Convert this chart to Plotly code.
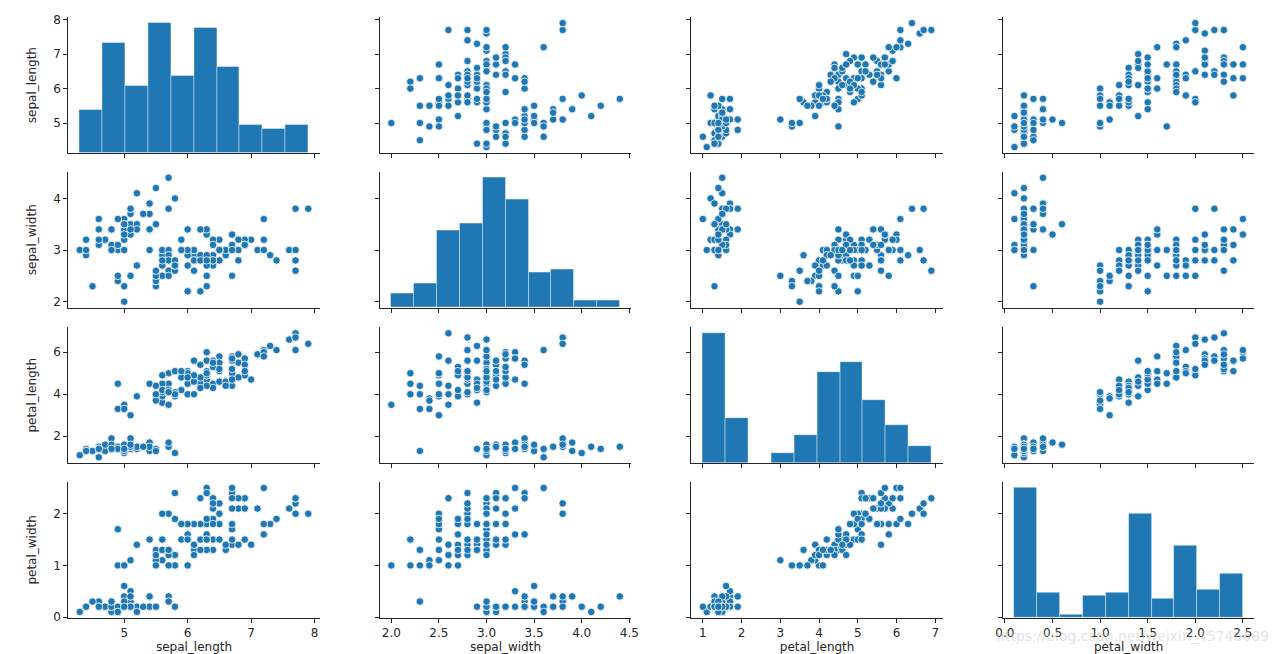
import numpy as np
import plotly.graph_objects as go

sepal_length = [5.1,4.9,4.7,4.6,5.0,5.4,4.6,5.0,4.4,4.9,5.4,4.8,4.8,4.3,5.8,5.7,5.4,5.1,5.7,5.1,
                5.4,5.1,4.6,5.1,4.8,5.0,5.0,5.2,5.2,4.7,4.8,5.4,5.2,5.5,4.9,5.0,5.5,4.9,4.4,5.1,
                5.0,4.5,4.4,5.0,5.1,4.8,5.1,4.6,5.3,5.0,
                7.0,6.4,6.9,5.5,6.5,5.7,6.3,4.9,6.6,5.2,5.0,5.9,6.0,6.1,5.6,6.7,5.6,5.8,6.2,5.6,
                5.9,6.1,6.3,6.1,6.4,6.6,6.8,6.7,6.0,5.7,5.5,5.5,5.8,6.0,5.4,6.0,6.7,6.3,5.6,5.5,
                5.5,6.1,5.8,5.0,5.6,5.7,5.7,6.2,5.1,5.7,
                6.3,5.8,7.1,6.3,6.5,7.6,4.9,7.3,6.7,7.2,6.5,6.4,6.8,5.7,5.8,6.4,6.5,7.7,7.7,6.0,
                6.9,5.6,7.7,6.3,6.7,7.2,6.2,6.1,6.4,7.2,7.4,7.9,6.4,6.3,6.1,7.7,6.3,6.4,6.0,6.9,
                6.7,6.9,5.8,6.8,6.7,6.7,6.3,6.5,6.2,5.9]
sepal_width = [3.5,3.0,3.2,3.1,3.6,3.9,3.4,3.4,2.9,3.1,3.7,3.4,3.0,3.0,4.0,4.4,3.9,3.5,3.8,3.8,
               3.4,3.7,3.6,3.3,3.4,3.0,3.4,3.5,3.4,3.2,3.1,3.4,4.1,4.2,3.1,3.2,3.5,3.6,3.0,3.4,
               3.5,2.3,3.2,3.5,3.8,3.0,3.8,3.2,3.7,3.3,
               3.2,3.2,3.1,2.3,2.8,2.8,3.3,2.4,2.9,2.7,2.0,3.0,2.2,2.9,2.9,3.1,3.0,2.7,2.2,2.5,
               3.2,2.8,2.5,2.8,2.9,3.0,2.8,3.0,2.9,2.6,2.4,2.4,2.7,2.7,3.0,3.4,3.1,2.3,3.0,2.5,
               2.6,3.0,2.6,2.3,2.7,3.0,2.9,2.9,2.5,2.8,
               3.3,2.7,3.0,2.9,3.0,3.0,2.5,2.9,2.5,3.6,3.2,2.7,3.0,2.5,2.8,3.2,3.0,3.8,2.6,2.2,
               3.2,2.8,2.8,2.7,3.3,3.2,2.8,3.0,2.8,3.0,2.8,3.8,2.8,2.8,2.6,3.0,3.4,3.1,3.0,3.1,
               3.1,3.1,2.7,3.2,3.3,3.0,2.5,3.0,3.4,3.0]
petal_length = [1.4,1.4,1.3,1.5,1.4,1.7,1.4,1.5,1.4,1.5,1.5,1.6,1.4,1.1,1.2,1.5,1.3,1.4,1.7,1.5,
                1.7,1.5,1.0,1.7,1.9,1.6,1.6,1.5,1.4,1.6,1.6,1.5,1.5,1.4,1.5,1.2,1.3,1.4,1.3,1.5,
                1.3,1.3,1.3,1.6,1.9,1.4,1.6,1.4,1.5,1.4,
                4.7,4.5,4.9,4.0,4.6,4.5,4.7,3.3,4.6,3.9,3.5,4.2,4.0,4.7,3.6,4.4,4.5,4.1,4.5,3.9,
                4.8,4.0,4.9,4.7,4.3,4.4,4.8,5.0,4.5,3.5,3.8,3.7,3.9,5.1,4.5,4.5,4.7,4.4,4.1,4.0,
                4.4,4.6,4.0,3.3,4.2,4.2,4.2,4.3,3.0,4.1,
                6.0,5.1,5.9,5.6,5.8,6.6,4.5,6.3,5.8,6.1,5.1,5.3,5.5,5.0,5.1,5.3,5.5,6.7,6.9,5.0,
                5.7,4.9,6.7,4.9,5.7,6.0,4.8,4.9,5.6,5.8,6.1,6.4,5.6,5.1,5.6,6.1,5.6,5.5,4.8,5.4,
                5.6,5.1,5.1,5.9,5.7,5.2,5.0,5.2,5.4,5.1]
petal_width = [0.2,0.2,0.2,0.2,0.2,0.4,0.3,0.2,0.2,0.1,0.2,0.2,0.1,0.1,0.2,0.4,0.4,0.3,0.3,0.3,
               0.2,0.4,0.2,0.5,0.2,0.2,0.4,0.2,0.2,0.2,0.2,0.4,0.1,0.2,0.2,0.2,0.2,0.1,0.2,0.2,
               0.3,0.3,0.2,0.6,0.4,0.3,0.2,0.2,0.2,0.2,
               1.4,1.5,1.5,1.3,1.5,1.3,1.6,1.0,1.3,1.4,1.0,1.5,1.0,1.4,1.3,1.4,1.5,1.0,1.5,1.1,
               1.8,1.3,1.5,1.2,1.3,1.4,1.4,1.7,1.5,1.0,1.1,1.0,1.2,1.6,1.5,1.6,1.5,1.3,1.3,1.3,
               1.2,1.4,1.2,1.0,1.3,1.2,1.3,1.3,1.1,1.3,
               2.5,1.9,2.1,1.8,2.2,2.1,1.7,1.8,1.8,2.5,2.0,1.9,2.1,2.0,2.4,2.3,1.8,2.2,2.3,1.5,
               2.3,2.0,2.0,1.8,2.1,1.8,1.8,1.8,2.1,1.6,1.9,2.0,2.2,1.5,1.4,2.3,2.4,1.8,1.8,2.1,
               2.4,2.3,1.9,2.3,2.5,2.3,1.9,2.0,2.3,1.8]

variables = ["sepal_length", "sepal_width", "petal_length", "petal_width"]
columns = [sepal_length, sepal_width, petal_length, petal_width]

x_tickvals = [[5, 6, 7, 8], [2.0, 2.5, 3.0, 3.5, 4.0, 4.5],
              [1, 2, 3, 4, 5, 6, 7], [0.0, 0.5, 1.0, 1.5, 2.0, 2.5]]
x_ticktext = [["5", "6", "7", "8"], ["2.0", "2.5", "3.0", "3.5", "4.0", "4.5"],
              ["1", "2", "3", "4", "5", "6", "7"], ["0.0", "0.5", "1.0", "1.5", "2.0", "2.5"]]
y_tickvals = [[5, 6, 7, 8], [2, 3, 4], [2, 4, 6], [0, 1, 2]]
y_ticktext = [["5", "6", "7", "8"], ["2", "3", "4"], ["2", "4", "6"], ["0", "1", "2"]]

BLUE = "#1f77b4"
W, H = 1280, 654
col_left = [53, 368.5, 684, 999.5]
col_w = 254.5
row_top = [5, 162, 320, 477]
row_h = 138.5

font = dict(family="DejaVu Sans", size=12, color="#262626")


def rng(vals):
    lo, hi = min(vals), max(vals)
    m = (hi - lo) * 0.05
    return [lo - m, hi + m]


fig = go.Figure()
layout = dict(width=W, height=H, margin=dict(l=0, r=0, t=0, b=0),
              plot_bgcolor="white", paper_bgcolor="white", showlegend=False,
              font=font)

extra = 17
for r in range(4):
    for c in range(4):
        k = r * 4 + c + 1
        xa = "x" + str(k)
        ya = "y" + str(k)
        xname = "xaxis" + str(k)
        yname = "yaxis" + str(k)
        xd = [col_left[c] / W, (col_left[c] + col_w) / W]
        yd = [1 - (row_top[r] + row_h) / H, 1 - row_top[r] / H]
        layout[xname] = dict(
            domain=xd, anchor=ya, range=rng(columns[c]),
            tickvals=x_tickvals[c], ticktext=x_ticktext[c],
            showticklabels=(r == 3), ticks="outside", ticklen=4, tickwidth=1,
            tickcolor="#262626", showline=True, linecolor="#262626", linewidth=1,
            showgrid=False, zeroline=False, mirror=False,
            title=dict(text=variables[c] if r == 3 else "", font=dict(size=12),
                       standoff=1),
            tickfont=dict(size=12),
        )
        layout[yname] = dict(
            domain=yd, anchor=xa, range=rng(columns[r]),
            tickvals=y_tickvals[r], ticktext=y_ticktext[r],
            showticklabels=(c == 0), ticks="outside", ticklen=4, tickwidth=1,
            tickcolor="#262626", showline=True, linecolor="#262626", linewidth=1,
            showgrid=False, zeroline=False, mirror=False,
            title=dict(text=variables[r] if c == 0 else "", font=dict(size=12),
                       standoff=14),
            tickfont=dict(size=12),
        )
        if r == c:
            # empty trace so the diagonal cell keeps its own (row-scaled) axes
            fig.add_trace(go.Scatter(x=[None], y=[None], mode="markers",
                                     xaxis=xa, yaxis=ya, hoverinfo="skip"))
            counts, edges = np.histogram(columns[c], bins=10)
            centers = (edges[:-1] + edges[1:]) / 2
            width = edges[1] - edges[0]
            yov = "y" + str(extra)
            layout["yaxis" + str(extra)] = dict(
                domain=yd, overlaying=ya, anchor="free", position=xd[0],
                range=[0, counts.max() * 1.05],
                showticklabels=False, ticks="", showline=False,
                showgrid=False, zeroline=False, title=dict(text=""))
            fig.add_trace(go.Bar(
                x=centers, y=counts, width=width, xaxis=xa, yaxis=yov,
                marker=dict(color=BLUE, line=dict(color="rgba(255,255,255,0.5)", width=0.8)),
                hoverinfo="skip"))
            extra += 1
        else:
            fig.add_trace(go.Scatter(
                x=columns[c], y=columns[r], mode="markers", xaxis=xa, yaxis=ya,
                marker=dict(color=BLUE, size=7.5, line=dict(color="white", width=0.8)),
                cliponaxis=False))

layout["bargap"] = 0
layout["annotations"] = [dict(
    text="https://blog.csdn.net/weixin_45746689", xref="paper", yref="paper",
    x=1271 / W, y=(H - 634) / H, xanchor="right", yanchor="middle", showarrow=False,
    font=dict(family="DejaVu Sans", size=14, color="rgba(200,200,200,0.5)"))]

fig.update_layout(**layout)
fig.write_html("out.html")
